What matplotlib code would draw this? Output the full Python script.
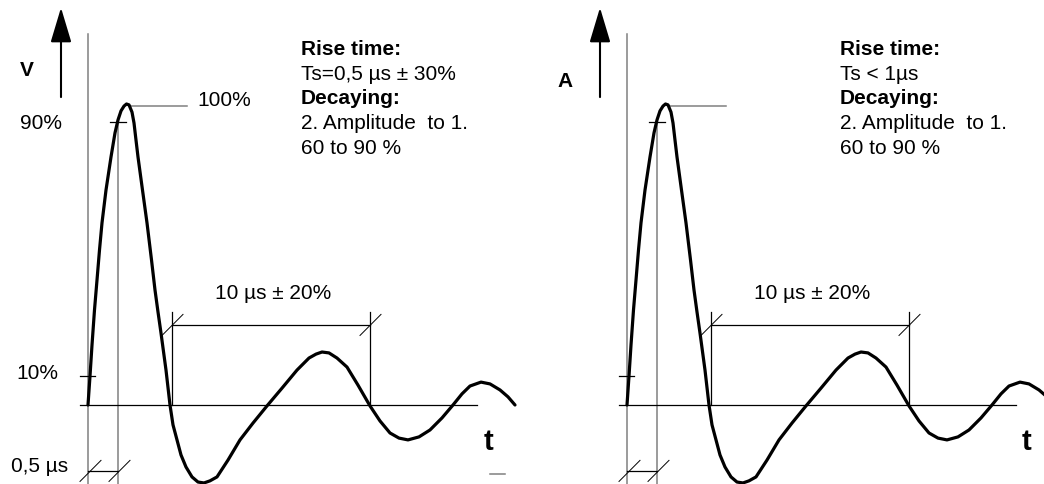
import matplotlib
matplotlib.use("Agg")
import matplotlib.pyplot as plt

plt.rcParams["font.family"] = ["Liberation Sans", "DejaVu Sans"]

# ring wave: time in drawing units, amplitude in % of peak
wave_t = [0, 2, 4, 6.5, 9, 11.5, 14, 18, 23, 27, 30, 33, 36, 38.5,
          41, 44, 46, 48, 50, 54.5, 59, 63.5, 67, 70, 73, 78, 82,
          85, 89, 93, 98, 104, 110, 116, 122, 129, 140, 152, 165, 179,
          194, 209, 221, 228, 234, 241, 249, 259, 270, 282,
          292, 302, 311, 320, 331, 342, 354, 365,
          374, 382, 393, 402, 412, 420, 427]
wave_amp = [0, 9.6, 19.9, 31.6, 41.5, 51.5, 60.5, 71.4, 82.4, 90.4, 94.7, 97.7, 99.3, 100,
            99.7, 97.3, 93.7, 88.0, 82.4, 71.4, 60.5, 48.2, 38.2, 30.9, 23.9, 11.6, 0,
            -6.6, -11.6, -16.6, -20.6, -23.9, -25.6, -25.9, -25.2, -23.9, -18.3, -11.6, -6.0, -0.3,
            5.6, 11.6, 15.6, 16.9, 17.6, 17.3, 15.6, 12.6, 6.6, -0.3,
            -5.3, -9.3, -11.0, -11.6, -10.6, -8.3, -4.3, 0,
            3.7, 6.3, 7.6, 7.0, 5.0, 2.7, 0]

level_hi = 94      # 90 % mark
level_lo = 9.6     # 10 % mark
level_peak = 99.3  # 100 % leader

axis_names = ["V", "A"]
text_blocks = [
    ["Rise time:", "Ts=0,5 µs ± 30%", "Decaying:", "2. Amplitude  to 1.", "60 to 90 %"],
    ["Rise time:", "Ts < 1µs", "Decaying:", "2. Amplitude  to 1.", "60 to 90 %"],
]
period_label = "10 µs ± 20%"

fig = plt.figure(figsize=(10.44, 4.84), dpi=100)
panels = [fig.add_axes([0, 0, 539 / 1044, 1]), fig.add_axes([539 / 1044, 0, 505 / 1044, 1])]
widths = [539, 505]

GREY = "#808080"
FS = 15


def slash(ax, t, a):
    ax.plot([t - 10, t + 11], [a - 3.5, a + 3.5], color="k", lw=0.7)


for i, ax in enumerate(panels):
    ax.set_xlim(-88, widths[i] - 88)
    ax.set_ylim(-26.25, 134.55)
    ax.axis("off")

    # axes of the sketch
    ax.plot([0, 0], [123.3, -30], color=GREY, lw=1.1)
    ax.plot([30, 30], [level_hi, -30], color=GREY, lw=1.1)
    ax.plot([-8, 389], [0, 0], color="k", lw=0.9)
    ax.plot([22, 38], [level_hi, level_hi], color="k", lw=0.9)
    ax.plot([-8, 7], [level_lo, level_lo], color="k", lw=0.9)
    ax.plot([42, 99], [level_peak, level_peak], color=GREY, lw=1.1)

    # arrow with unit
    ax.annotate("", xy=(-27, 132), xytext=(-27, 102.3),
                arrowprops=dict(arrowstyle="-|>,head_length=1.5,head_width=0.45",
                                mutation_scale=14.4, lw=1.5, color="k",
                                shrinkA=0, shrinkB=0))
    ax.text(-61.5, 111 if i == 0 else 107.6, axis_names[i], fontsize=FS,
            fontweight="bold", ha="center", va="center")

    # period dimension
    ax.plot([84, 84], [0, 30.9], color="k", lw=0.9)
    ax.plot([282, 282], [0, 30.9], color="k", lw=0.9)
    ax.plot([84, 282], [26.6, 26.6], color="k", lw=0.9)
    slash(ax, 84, 26.6)
    slash(ax, 282, 26.6)
    ax.text(185.5, 37.2, period_label, fontsize=FS, ha="center", va="center")

    # rise time dimension
    ax.plot([0, 30], [-21.9, -21.9], color="k", lw=0.9)
    slash(ax, 2, -21.9)
    slash(ax, 31, -21.9)

    # waveform
    ax.plot(wave_t, wave_amp, color="k", lw=2.3, solid_joinstyle="round",
            solid_capstyle="round")

    ax.text(400, -12.3, "t", fontsize=21, fontweight="bold", ha="center", va="center")

    base = [116.3, 108.0, 100.0, 91.6, 83.4]
    for j, line in enumerate(text_blocks[i]):
        ax.text(213, base[j], line, fontsize=FS, ha="left", va="baseline",
                fontweight="bold" if j in (0, 2) else "normal")

left = panels[0]
left.text(109, 101.3, "100%", fontsize=FS, ha="left", va="center")
left.text(-26, 93.4, "90%", fontsize=FS, ha="right", va="center")
left.text(-30, 10.6, "10%", fontsize=FS, ha="right", va="center")
left.text(-20, -20.6, "0,5 µs", fontsize=FS, ha="right", va="center")
left.plot([402, 417], [-22.9, -22.9], color=GREY, lw=1.1)

fig.savefig("out.png", dpi=100)
